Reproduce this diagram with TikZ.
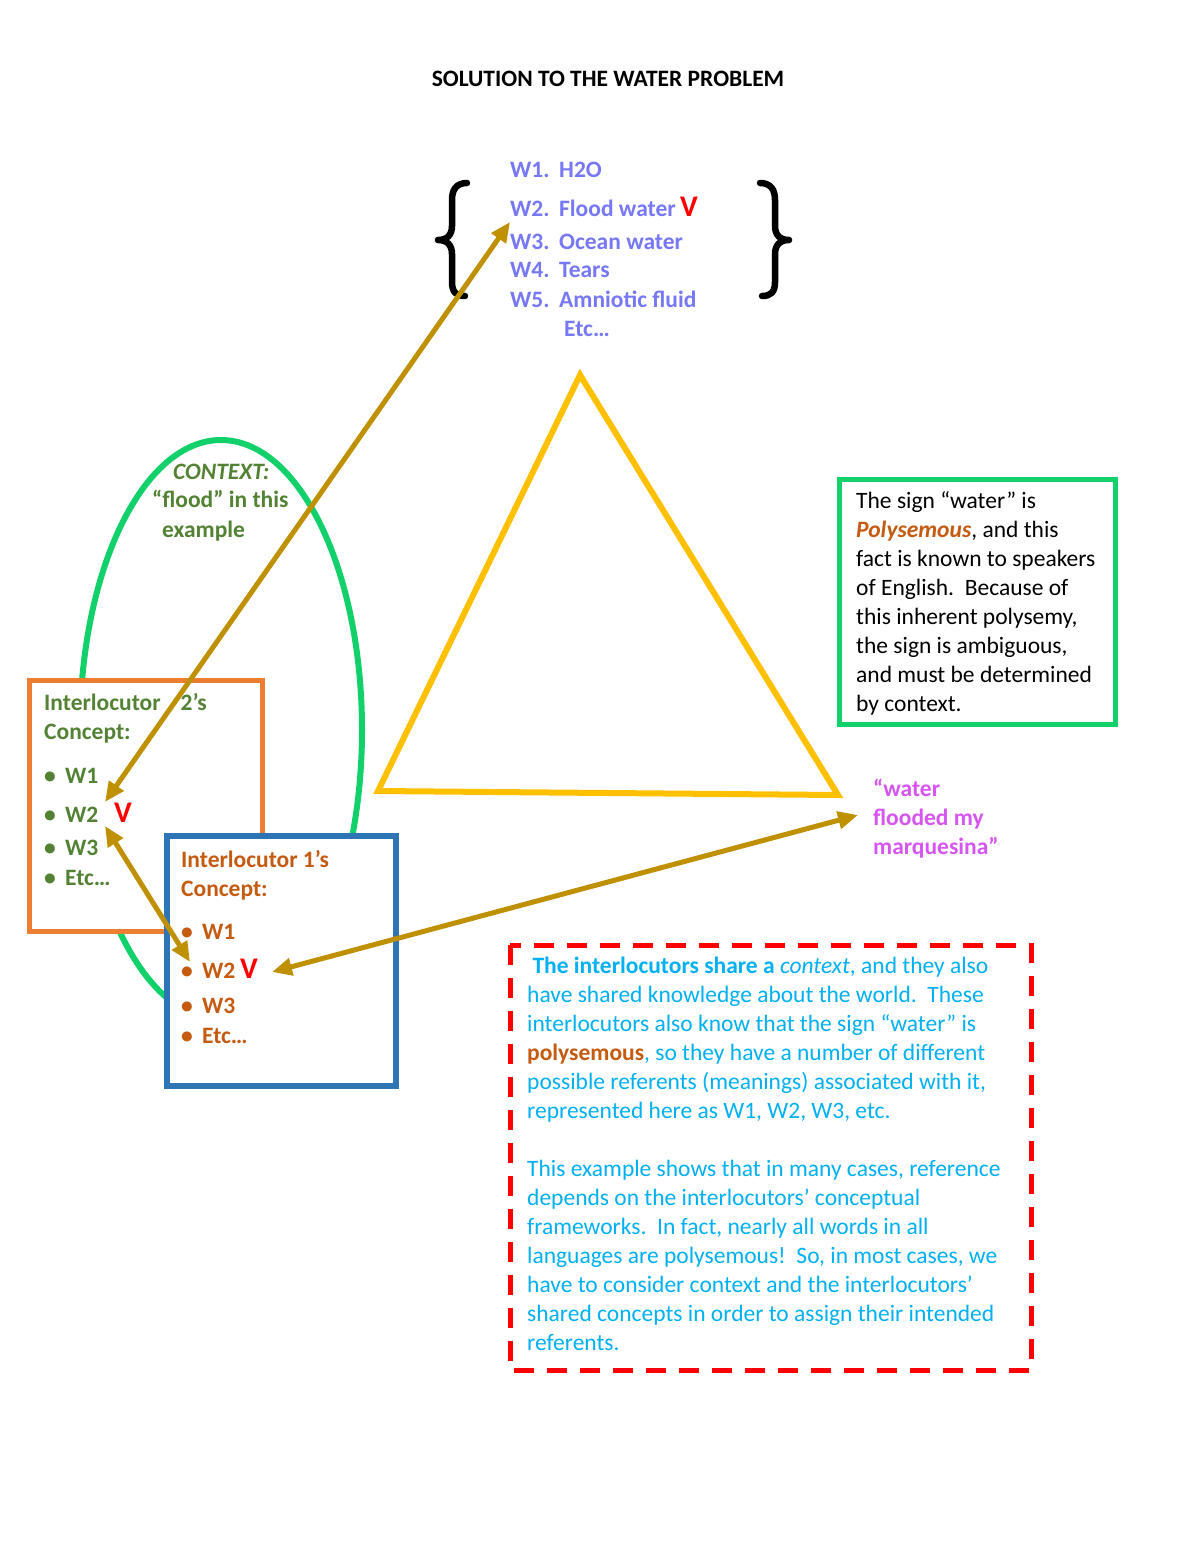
\documentclass[tikz,border=0pt]{standalone}
\usepackage{fontspec}
\setmainfont{Carlito}
\usetikzlibrary{arrows.meta}
\definecolor{wblue}{RGB}{118,120,245}
\definecolor{ctxgreen}{RGB}{84,130,53}
\definecolor{brorange}{RGB}{197,90,17}
\definecolor{boxorange}{RGB}{237,125,49}
\definecolor{boxblue}{RGB}{46,117,182}
\definecolor{lgreen}{RGB}{18,208,106}
\definecolor{tri}{RGB}{255,192,0}
\definecolor{gold}{RGB}{191,144,0}
\definecolor{cyanT}{RGB}{0,176,240}
\definecolor{mag}{RGB}{214,84,240}
\definecolor{chk}{RGB}{255,0,0}
\tikzset{
  txt/.style={font=\fontsize{23.5}{29}\selectfont, inner sep=0pt, anchor=base west, align=left},
  btxt/.style={txt, font=\fontsize{23.5}{29}\selectfont\bfseries},
  checkv/.style={inner sep=0pt, anchor=base west, text=chk, font=\fontsize{30}{30}\selectfont\bfseries},
  frame/.style={line width=5pt, fill=white, anchor=north west, inner sep=0pt},
  brace/.style={line width=6.5pt, black, line cap=round, line join=round},
  link/.style={gold, line width=5pt, {Triangle[length=20pt,width=17pt]}-{Triangle[length=20pt,width=17pt]}},
}
\begin{document}
\begin{tikzpicture}[x=1pt,y=-1pt]
\useasboundingbox (0,0) rectangle (1200,1553);
\fill[white] (0,0) rectangle (1200,1553);

% title
\node[btxt, anchor=base, text=black] (title) at (608,86) {SOLUTION TO THE WATER PROBLEM};

% braces
\draw[brace] (467,183) .. controls (456,183) and (452,190) .. (452,200) -- (452,226)
  .. controls (452,235) and (447,240) .. (438,240) .. controls (447,240) and (452,245) .. (452,254)
  -- (452,282) .. controls (452,292) and (456,296) .. (465,296);
\draw[brace] (760,183) .. controls (771,183) and (775,190) .. (775,200) -- (775,226)
  .. controls (775,235) and (780,240) .. (789,240) .. controls (780,240) and (775,245) .. (775,254)
  -- (775,282) .. controls (775,292) and (771,296) .. (762,296);

% W list
\node[btxt, text=wblue] (lw1) at (510,177) {\makebox[49pt][l]{W1.}H2O};
\node[btxt, text=wblue] (lw2) at (510,216) {\makebox[49pt][l]{W2.}Flood water};
\node[checkv] (lv) at (680,216) {V};
\node[btxt, text=wblue] (lw3) at (510,249) {\makebox[49pt][l]{W3.}Ocean water};
\node[btxt, text=wblue] (lw4) at (510,277) {\makebox[49pt][l]{W4.}Tears};
\node[btxt, text=wblue] (lw5) at (510,307) {\makebox[49pt][l]{W5.}Amniotic fluid};
\node[btxt, text=wblue] (letc) at (564,336) {Etc\ldots};

% context ellipse
\draw[lgreen, line width=6pt] (221,730) ellipse [x radius=141, y radius=290];
\node[btxt, text=ctxgreen] (ctx1) at (173,479) {\textit{CONTEXT:}};
\node[btxt, text=ctxgreen] (ctx2) at (152,507) {“flood” in this};
\node[btxt, text=ctxgreen] (ctx3) at (162,537) {example};

% triangle
\coordinate (ta) at (580,375);
\coordinate (tb) at (378,791);
\coordinate (tc) at (838,795);
\draw[tri, line width=6pt, line join=miter] (ta) -- (tb) -- (tc) -- cycle;

% interlocutor 2 box
\node[frame, draw=boxorange, minimum width=233pt, minimum height=251pt] (box2) at (27,678) {};
\node[btxt, text=ctxgreen] (h2) at (44,739) {Interlocutor\hspace{20pt}2’s\\Concept:};
\node[btxt, text=ctxgreen] (b2a) at (44,783) {\makebox[21pt][l]{•}W1};
\node[btxt, text=ctxgreen] (b2b) at (44,822) {\makebox[21pt][l]{•}W2};
\node[checkv] (v2) at (114,822) {V};
\node[btxt, text=ctxgreen] (b2c) at (44,855) {\makebox[21pt][l]{•}W3};
\node[btxt, text=ctxgreen] (b2d) at (44,885) {\makebox[21pt][l]{•}Etc\ldots};

% interlocutor 1 box
\node[frame, draw=boxblue, line width=6pt, minimum width=229pt, minimum height=250pt] (box1) at (164,833) {};
\node[btxt, text=brorange] (h1) at (181,896) {Interlocutor 1’s\\Concept:};
\node[btxt, text=brorange] (b1a) at (181,939) {\makebox[21pt][l]{•}W1};
\node[btxt, text=brorange] (b1b) at (181,978) {\makebox[21pt][l]{•}W2};
\node[checkv] (v1) at (240,978) {V};
\node[btxt, text=brorange] (b1c) at (181,1013) {\makebox[21pt][l]{•}W3};
\node[btxt, text=brorange] (b1d) at (181,1043) {\makebox[21pt][l]{•}Etc\ldots};

% sign box
\node[frame, draw=lgreen, minimum width=276pt, minimum height=245pt] (signbox) at (837,477) {};
\node[txt] (signtext) at (856,711) {The sign “water” is\\
\textcolor{brorange}{\textbf{\textit{Polysemous}}}, and this\\
fact is known to speakers\\
of English.\ \ Because of\\
this inherent polysemy,\\
the sign is ambiguous,\\
and must be determined\\
by context.};

% utterance
\node[btxt, text=mag] (utt) at (873,854) {“water\\flooded my\\marquesina”};

% explanation box
\draw[chk, line width=5pt, dash pattern=on 20pt off 13pt] (510,945) rectangle (1031,1370);
\node[txt, text=cyanT] (expl) at (527,1350) {\ \textbf{The interlocutors share a} \textit{context}, and they also\\
have shared knowledge about the world.\ \ These\\
interlocutors also know that the sign “water” is\\
\textcolor{brorange}{\textbf{polysemous}}, so they have a number of different\\
possible referents (meanings) associated with it,\\
represented here as W1, W2, W3, etc.\\[29pt]
This example shows that in many cases, reference\\
depends on the interlocutors’ conceptual\\
frameworks.\ \ In fact, nearly all words in all\\
languages are polysemous!\ \ So, in most cases, we\\
have to consider context and the interlocutors’\\
shared concepts in order to assign their intended\\
referents.};

% connectors
\coordinate (p1) at (510,222);
\coordinate (p2) at (105,802);
\coordinate (p3) at (105,826);
\coordinate (p4) at (190,962);
\coordinate (p5) at (858,815);
\coordinate (p6) at (272,972);
\draw[link] (p1) -- (p2);
\draw[link] (p3) -- (p4);
\draw[link] (p5) -- (p6);
\end{tikzpicture}
\end{document}
